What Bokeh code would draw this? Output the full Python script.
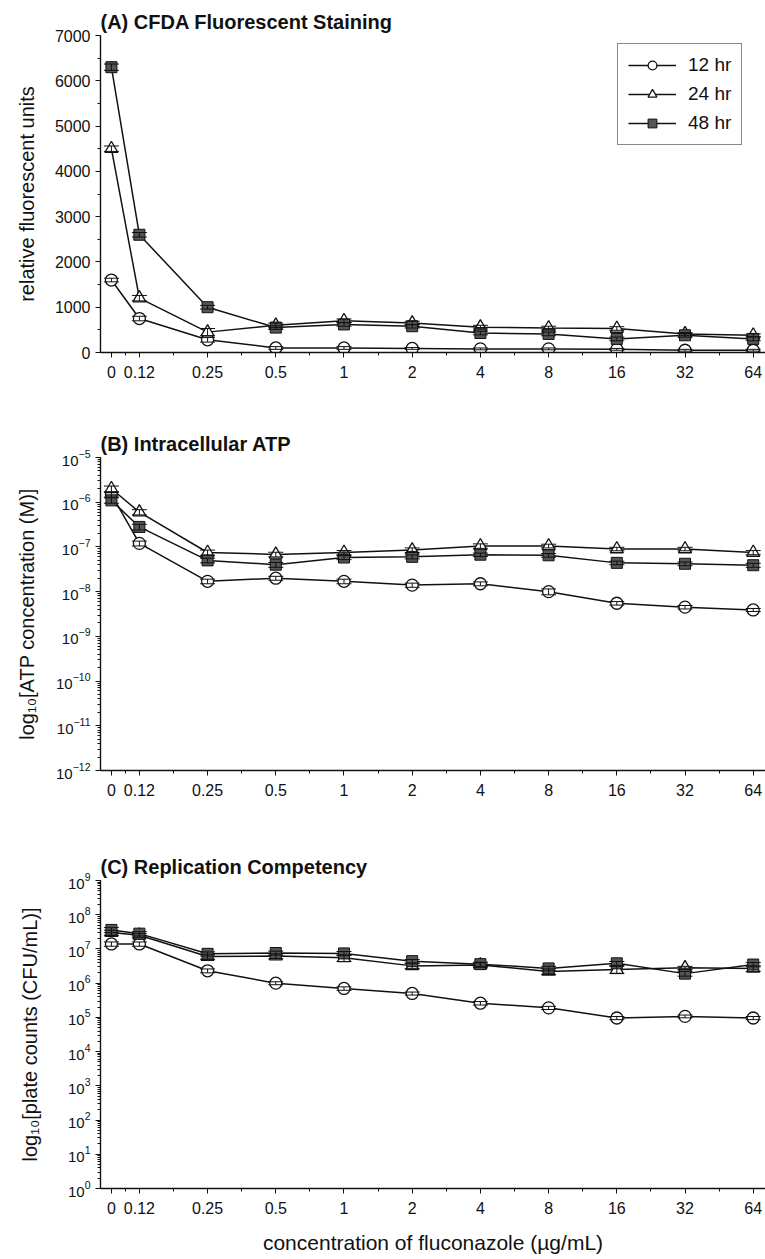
from bokeh.plotting import figure
from bokeh.layouts import column
from bokeh.models import (ColumnDataSource, Whisker, FixedTicker, Legend, LegendItem,
                          SingleIntervalTicker, Range1d, Title, TeeHead)
from bokeh.embed import file_html
from bokeh.resources import INLINE

# ---------------- data ----------------
conc_labels = ["0", "0.12", "0.25", "0.5", "1", "2", "4", "8", "16", "32", "64"]
# position of each concentration on the (equal-step) x axis; "0" sits just left of 0.12
conc_pos = [0.59, 1, 2, 3, 4, 5, 6, 7, 8, 9, 10]

series_names = ["12 hr", "24 hr", "48 hr"]

# (A) CFDA fluorescent staining (relative fluorescent units)
a_12 = [1600, 750, 280, 100, 100, 90, 80, 80, 70, 50, 50]
a_24 = [4500, 1200, 450, 600, 700, 650, 560, 540, 530, 410, 380]
a_48 = [6300, 2600, 1000, 550, 620, 580, 430, 410, 300, 380, 300]
a_12_err = [40, 50, 50, 30, 30, 20, 20, 20, 20, 20, 20]
a_24_err = [60, 60, 80, 50, 40, 40, 40, 40, 40, 30, 30]
a_48_err = [70, 50, 40, 40, 40, 40, 40, 40, 40, 40, 40]

# (B) intracellular ATP (M)
b_12 = [1.5e-6, 1.2e-7, 1.7e-8, 2.0e-8, 1.7e-8, 1.4e-8, 1.5e-8, 1.0e-8, 5.5e-9, 4.5e-9, 3.9e-9]
b_24 = [2.0e-6, 6.0e-7, 7.5e-8, 6.8e-8, 7.5e-8, 8.5e-8, 1.05e-7, 1.05e-7, 9.0e-8, 9.0e-8, 7.5e-8]
b_48 = [1.1e-6, 2.8e-7, 5.0e-8, 4.0e-8, 5.8e-8, 6.0e-8, 6.7e-8, 6.5e-8, 4.4e-8, 4.2e-8, 3.9e-8]
b_12_err = [2e-7, 1.5e-8, 2e-9, 2e-9, 2e-9, 1.5e-9, 1.5e-9, 1.5e-9, 5e-10, 4e-10, 3e-10]
b_24_err = [3e-7, 8e-8, 1e-8, 8e-9, 8e-9, 1e-8, 1.2e-8, 1e-8, 8e-9, 8e-9, 8e-9]
b_48_err = [1.5e-7, 4e-8, 6e-9, 5e-9, 6e-9, 6e-9, 6e-9, 6e-9, 4e-9, 4e-9, 4e-9]

# (C) replication competency (CFU/mL)
c_12 = [1.4e7, 1.4e7, 2.3e6, 1.0e6, 7.0e5, 5.0e5, 2.6e5, 1.9e5, 9.6e4, 1.07e5, 9.6e4]
c_24 = [3.0e7, 2.5e7, 6.0e6, 6.2e6, 5.5e6, 3.2e6, 3.4e6, 2.2e6, 2.5e6, 2.8e6, 2.7e6]
c_48 = [3.6e7, 2.8e7, 7.2e6, 7.6e6, 7.4e6, 4.4e6, 3.6e6, 2.7e6, 3.8e6, 1.9e6, 3.5e6]
c_12_err = [2e6, 2e6, 3e5, 1e5, 8e4, 5e4, 3e4, 2e4, 1e4, 1e4, 1e4]
c_24_err = [5e6, 3e6, 1e6, 1e6, 1.2e6, 5e5, 5e5, 4e5, 6e5, 3e5, 5e5]
c_48_err = [6e6, 4e6, 1e6, 1e6, 1e6, 5e5, 5e5, 4e5, 5e5, 3e5, 5e5]

FONT = "Liberation Sans"
INK = "#111111"
SQUARE_FILL = "#555555"

marker_styles = [
    dict(marker="circle", size=12, fill_color="white", line_color=INK, line_width=1.3),
    dict(marker="triangle", size=13, fill_color="white", line_color=INK, line_width=1.3),
    dict(marker="square", size=11, fill_color=SQUARE_FILL, line_color=INK, line_width=1.0),
]

WIDTH = 765
LEFT = 100


def make_fig(height, top, bottom, title, ylabel, y_range, log=False, xlabel=None, ylabel_standoff=16):
    p = figure(width=WIDTH, height=height, output_backend="svg", toolbar_location=None,
               x_range=Range1d(0.43, 10.18), y_range=y_range,
               y_axis_type="log" if log else "linear",
               min_border_left=LEFT, min_border_right=0,
               min_border_top=top, min_border_bottom=bottom)
    p.title = Title(text=title, align="left", text_font=FONT, text_font_size="20px",
                    text_font_style="bold", text_color=INK, standoff=6, offset=0)
    p.outline_line_color = None
    p.grid.visible = False
    p.background_fill_color = "white"
    p.border_fill_color = "white"

    minor = [(conc_pos[i] + conc_pos[i + 1]) / 2 for i in range(len(conc_pos) - 1)]
    p.xaxis.ticker = FixedTicker(ticks=conc_pos, minor_ticks=minor)
    p.xaxis.major_label_overrides = {pos: lab for pos, lab in zip(conc_pos, conc_labels)}

    for ax in (p.xaxis, p.yaxis):
        ax.axis_line_color = INK
        ax.axis_line_width = 1.4
        ax.major_tick_line_color = INK
        ax.minor_tick_line_color = INK
        ax.major_tick_in = 0
        ax.major_tick_out = 5
        ax.minor_tick_in = 0
        ax.minor_tick_out = 3
        ax.major_label_text_font = FONT
        ax.major_label_text_color = INK
        ax.axis_label_text_font = FONT
        ax.axis_label_text_font_style = "normal"
        ax.axis_label_text_color = INK
        ax.axis_label_text_font_size = "20px"
    p.xaxis.major_label_text_font_size = "16px"
    p.yaxis.major_label_text_font_size = "15px" if log else "16px"
    p.xaxis.major_label_standoff = 8
    p.yaxis.major_label_standoff = 5
    p.yaxis.axis_label = ylabel
    p.yaxis.axis_label_standoff = ylabel_standoff
    if xlabel:
        p.xaxis.axis_label = xlabel
        p.xaxis.axis_label_standoff = 14
        p.xaxis.axis_label_text_font_size = "21px"
    return p


def add_series(p, values, errors, legend=False):
    renderers = []
    for name, vals, errs, ms in zip(series_names, values, errors, marker_styles):
        src = ColumnDataSource(dict(
            x=conc_pos, y=vals,
            lo=[v - e for v, e in zip(vals, errs)],
            hi=[v + e for v, e in zip(vals, errs)]))
        ln = p.line("x", "y", source=src, line_color=INK, line_width=1.5)
        renderers.append((name, ln, src, ms))
    sc_list = []
    for name, ln, src, ms in renderers:
        sc = p.scatter("x", "y", source=src, **ms)
        sc_list.append(sc)
    for name, ln, src, ms in renderers:
        w = Whisker(base="x", lower="lo", upper="hi", source=src, dimension="height",
                    line_color=INK, line_width=1.0, level="overlay",
                    upper_head=TeeHead(size=15, line_color=INK, line_width=1.0),
                    lower_head=TeeHead(size=15, line_color=INK, line_width=1.0))
        p.add_layout(w)
    if legend:
        items = [LegendItem(label=name, renderers=[ln, sc])
                 for (name, ln, src, ms), sc in zip(renderers, sc_list)]
        lg = Legend(items=items, location=(517, 207),
                    border_line_color=INK, border_line_width=1.6,
                    background_fill_color="white", background_fill_alpha=1,
                    label_text_font=FONT, label_text_font_size="19px", label_text_color=INK,
                    glyph_width=48, glyph_height=22, label_standoff=12, spacing=7,
                    padding=10, label_height=22, margin=0)
        p.add_layout(lg, "center")


pA = make_fig(420, 35, 68, "(A) CFDA Fluorescent Staining", "relative fluorescent units",
              Range1d(0, 7000), ylabel_standoff=14)
pA.yaxis.ticker = SingleIntervalTicker(interval=1000, num_minor_ticks=2)
add_series(pA, [a_12, a_24, a_48], [a_12_err, a_24_err, a_48_err], legend=True)

pB = make_fig(420, 37, 70, "(B) Intracellular ATP", "log\u2081\u2080[ATP concentration (M)]",
              Range1d(1e-12, 1e-5), log=True, ylabel_standoff=15)
add_series(pB, [b_12, b_24, b_48], [b_12_err, b_24_err, b_48_err])

pC = make_fig(419, 40, 71, "(C) Replication Competency", "log\u2081\u2080[plate counts (CFU/mL)]",
              Range1d(1, 1e9), log=True, ylabel_standoff=24,
              xlabel="concentration of fluconazole (\u00b5g/mL)")
add_series(pC, [c_12, c_24, c_48], [c_12_err, c_24_err, c_48_err])

layout = column(pA, pB, pC, spacing=0)
open("out.html", "w").write(file_html(layout, INLINE))
